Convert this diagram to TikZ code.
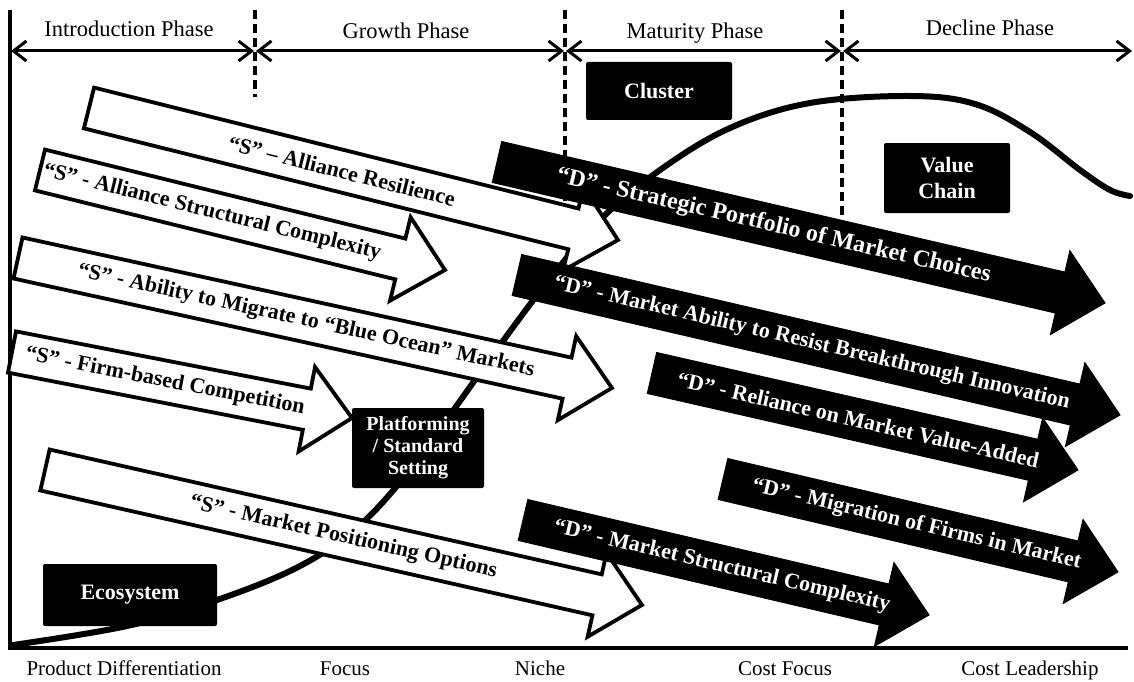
\documentclass[tikz,border=0pt]{standalone}
\usepackage{fontspec}
\setmainfont{Liberation Serif}
\usetikzlibrary{calc,arrows.meta}

% block arrow: #1 name, #2 tail centre, #3 tip, #4 style
\newcommand\blockarrow[4]{%
  \coordinate (#1-a) at #2;
  \coordinate (#1-b) at #3;
  \path let \p1=($(#1-b)-(#1-a)$) in
    \pgfextra{\pgfmathsetmacro\baang{atan2(\y1,\x1)}%
              \pgfmathsetmacro\balen{veclen(\x1,\y1)}%
              \global\let\baang\baang\global\let\balen\balen};
  \begin{scope}[shift={(#1-a)}, rotate=\baang, x=1pt, y=1pt]
    \path[#4] (0,21) -- ({\balen-46},21) -- ({\balen-46},43) -- (\balen,0)
      -- ({\balen-46},-43) -- ({\balen-46},-21) -- (0,-21) -- cycle;
  \end{scope}}

\tikzset{
  axis/.style={line width=4pt},
  phase/.style={line width=3pt, shorten <=1pt, shorten >=1pt,
    {Straight Barb[length=13pt,width=20pt]}-{Straight Barb[length=13pt,width=20pt]}},
  divider/.style={line width=4pt, dash pattern=on 9pt off 5pt},
  lifecycle/.style={line width=6pt, line cap=round},
  sshape/.style={fill=white, draw=black, line width=3.8pt, line join=miter},
  dshape/.style={fill=black, draw=black, line width=1pt, line join=miter},
  stext/.style={font=\bfseries\fontsize{22}{26}\selectfont, text=black, inner sep=0pt},
  dtext/.style={font=\bfseries\fontsize{22}{26}\selectfont, text=white, inner sep=0pt},
  phaselabel/.style={font=\fontsize{22.5}{26}\selectfont, inner sep=0pt, anchor=base},
  stagelabel/.style={font=\fontsize{21}{24}\selectfont, inner sep=0pt, anchor=base},
  darkbox/.style={fill=black, text=white, rounded corners=2pt, align=center,
    inner sep=0pt, font=\bfseries\fontsize{22}{26}\selectfont},
}

\begin{document}
\begin{tikzpicture}[x=1pt, y=-1pt]
\useasboundingbox[fill=white] (0,0) rectangle (1134,682);

% axes
\coordinate (o) at (10,648);
\coordinate (top) at (10,10);
\coordinate (right) at (1128,648);
\draw[axis] (top) -- ([yshift=-2pt]o) ([xshift=-2pt]o) -- (right);

% phase dividers
\coordinate (d1t) at (255,10);  \coordinate (d1b) at (255,97);
\coordinate (d2t) at (565,10);  \coordinate (d2b) at (565,222);
\coordinate (d3t) at (842,10);  \coordinate (d3b) at (842,222);
\draw[divider] (d1t) -- (d1b);
\draw[divider] (d2t) -- (d2b);
\draw[divider] (d3t) -- (d3b);

% phase spans
\coordinate (p0) at (10,51);
\coordinate (p1) at (255,51);
\coordinate (p2) at (565,51);
\coordinate (p3) at (842,51);
\coordinate (p4) at (1133,51);
\draw[phase] (p0) -- (p1);
\draw[phase] (p1) -- (p2);
\draw[phase] (p2) -- (p3);
\draw[phase] (p3) -- (p4);
\node[phaselabel] (ph1) at (129,37) {Introduction Phase};
\node[phaselabel] (ph2) at (406,39) {Growth Phase};
\node[phaselabel] (ph3) at (695,39) {Maturity Phase};
\node[phaselabel] (ph4) at (990,36) {Decline Phase};

% life-cycle curve
\draw[lifecycle] plot[smooth, tension=0.6] coordinates {
  (13,645) (127,626) (217,600) (300,566) (360,525) (410,470) (450,415)
  (495,352) (545,285) (600,220) (660,170) (730,128) (810,103) (910,96)
  (975,104) (1030,132) (1080,170) (1110,190) (1130,196)};

% "S" arrows
\blockarrow{s1}{(89,108)}{(618,240)}{sshape}
\blockarrow{s2}{(40,170)}{(445,270)}{sshape}
\blockarrow{s3}{(18,258)}{(612,388)}{sshape}
\blockarrow{s4}{(12,352)}{(352,418)}{sshape}
\blockarrow{s5}{(45,470)}{(642,605)}{sshape}
\path (s1-a) -- (s1-b) node[pos=0.478, sloped, stext] (s1-t) {“S” – Alliance Resilience};
\path (s2-a) -- (s2-b) node[pos=0.425, sloped, stext] (s2-t) {“S” - Alliance Structural Complexity};
\path (s3-a) -- (s3-b) node[pos=0.485, sloped, stext] (s3-t) {“S” - Ability to Migrate to “Blue Ocean” Markets};
\path (s4-a) -- (s4-b) node[pos=0.45, sloped, stext] (s4-t) {“S” - Firm-based Competition};
\path (s5-a) -- (s5-b) node[pos=0.5, sloped, stext] (s5-t) {“S” - Market Positioning Options};

% "D" arrows
\blockarrow{d1}{(497,162)}{(1105,303)}{dshape}
\blockarrow{d2}{(517,275)}{(1120,415)}{dshape}
\blockarrow{d3}{(652,373)}{(1078,470)}{dshape}
\blockarrow{d4}{(723,479)}{(1118,572)}{dshape}
\blockarrow{d5}{(523,520)}{(929,615)}{dshape}
\path (d1-a) -- (d1-b) node[pos=0.455, sloped, dtext,
  font=\bfseries\fontsize{24}{28}\selectfont] (d1-t) {“D” - Strategic Portfolio of Market Choices};
\path (d2-a) -- (d2-b) node[pos=0.489, sloped, dtext] (d2-t) {“D” - Market Ability to Resist Breakthrough Innovation};
\path (d3-a) -- (d3-b) node[pos=0.484, sloped, dtext] (d3-t) {“D” - Reliance on Market Value-Added};
\path (d4-a) -- (d4-b) node[pos=0.49, sloped, dtext] (d4-t) {“D” - Migration of Firms in Market};
\path (d5-a) -- (d5-b) node[pos=0.49, sloped, dtext] (d5-t) {“D” - Market Structural Complexity};

% structure boxes
\node[darkbox, minimum width=146, minimum height=58] (cluster) at (659,91) {Cluster};
\node[darkbox, minimum width=126, minimum height=70] (vchain) at (947,178) {Value\\Chain};
\node[darkbox, minimum width=132, minimum height=80,
      font=\bfseries\fontsize{20}{22}\selectfont] (platform) at (418,448) {Platforming\\/ Standard\\Setting};
\node[darkbox, minimum width=174, minimum height=62] (eco) at (130,595) {Ecosystem};

% strategy labels along the bottom
\node[stagelabel] (st1) at (124,675) {Product Differentiation};
\node[stagelabel] (st2) at (345,675) {Focus};
\node[stagelabel] (st3) at (540,675) {Niche};
\node[stagelabel] (st4) at (785,675) {Cost Focus};
\node[stagelabel] (st5) at (1030,675) {Cost Leadership};
\end{tikzpicture}
\end{document}
